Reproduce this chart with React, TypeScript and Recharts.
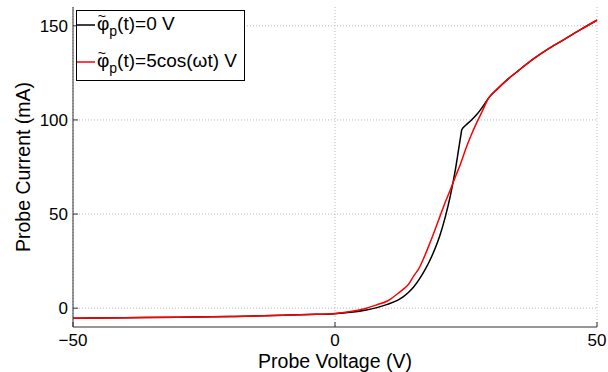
import React from 'react';
import { LineChart, Line, XAxis, YAxis, CartesianGrid } from 'recharts';

const voltage = [-50, -40, -30, -20, -10, -5, 0, 3, 6, 8, 10, 12, 13, 14, 15, 16, 17, 18, 19, 20, 21, 22, 23, 24, 24.2, 25, 26, 27, 28, 29.3, 31, 33, 35, 38, 41, 44, 47, 50];
const currentDC = [-5.3, -5.1, -4.8, -4.4, -3.8, -3.4, -2.9, -2.2, -1.0, 0.3, 2.0, 4.3, 6.0, 8.3, 11.2, 15, 19.5, 24.8, 31, 38.5, 48, 59.5, 74, 91.5, 94.8, 97.3, 99.8, 102.7, 106.3, 111.6, 116.5, 121.7, 126.2, 132.7, 138.3, 143.2, 148.2, 153];
const currentAC = [-5.3, -5.1, -4.8, -4.4, -3.8, -3.4, -2.8, -1.8, 0, 1.8, 3.8, 7.8, 10, 12.6, 17, 21, 27, 33.8, 41, 48.5, 56, 62.8, 70, 77, 78.6, 85, 92, 98.3, 104, 111.6, 116.5, 121.7, 126.2, 132.7, 138.3, 143.2, 148.2, 153];
const xTicks = [-50, 0, 50];
const yTicks = [0, 50, 100, 150];
const seriesNames = ['(t)=0 V', '(t)=5cos(ωt) V'];
const seriesColors = ['#000000', '#ff0000'];

const data = voltage.map((v, i) => ({ v, dc: currentDC[i], ac: currentAC[i] }));

const FONT = 'Liberation Sans, Arial, Helvetica, sans-serif';
const fmt = (t: number) => String(t).replace('-', '\u2212');

const LegendOverlay = () => (
  <svg width={608} height={372} style={{ position: 'absolute', left: 0, top: 0, pointerEvents: 'none' }}>
    <rect x={76.5} y={10.5} width={168} height={70} fill="#fff" stroke="#000" strokeWidth={1} />
    {seriesNames.map((n, i) => {
      const base = 29.5 + i * 37;
      return (
        <g key={n} fontFamily={FONT} fill="#000">
          <line x1={77} x2={95} y1={base - 4.5} y2={base - 4.5} stroke={seriesColors[i]} strokeWidth={1.5} />
          <text x={97} y={base} fontSize={19}>
            φ
            <tspan dx={-11.5} dy={-9} fontSize={14}>~</tspan>
            <tspan dx={3.3} dy={15} fontSize={14}>p</tspan>
            <tspan dy={-6}>{n}</tspan>
          </text>
        </g>
      );
    })}
  </svg>
);

export default function App() {
  return (
    <div style={{ position: 'absolute', left: 0, top: 0, width: 608, height: 372, background: '#fff' }}>
      <LineChart width={608} height={372} data={data} margin={{ top: 7, right: 11, bottom: 0, left: 0 }}>
        <CartesianGrid stroke="#b8b8b8" strokeDasharray="1 2" horizontalValues={yTicks} verticalValues={xTicks} />
        <XAxis
          dataKey="v"
          type="number"
          domain={[-50, 50]}
          ticks={xTicks}
          tickFormatter={fmt}
          height={45}
          axisLine={{ stroke: '#333', strokeWidth: 1 }}
          tickLine={{ stroke: '#333' }}
          tickSize={-5}
          tickMargin={12}
          tick={{ fill: '#000', fontSize: 17, fontFamily: FONT }}
          label={{ value: 'Probe Voltage (V)', position: 'insideBottom', offset: 4, fill: '#000', fontSize: 19.5, fontFamily: FONT }}
        />
        <YAxis
          type="number"
          domain={[-10, 160]}
          ticks={yTicks}
          width={73}
          axisLine={{ stroke: '#333', strokeWidth: 1 }}
          tickLine={{ stroke: '#333' }}
          tickSize={-5}
          tickMargin={10}
          tick={{ fill: '#000', fontSize: 17, fontFamily: FONT }}
          label={{ value: 'Probe Current (mA)', angle: -90, position: 'insideLeft', offset: 23, fill: '#000', fontSize: 19.5, fontFamily: FONT, style: { textAnchor: 'middle' } }}
        />
        <Line dataKey="dc" type="monotone" stroke="#000" strokeWidth={1.5} dot={false} isAnimationActive={false} />
        <Line dataKey="ac" type="monotone" stroke="#ff0000" strokeWidth={1.5} dot={false} isAnimationActive={false} />
      </LineChart>
      <LegendOverlay />
    </div>
  );
}
